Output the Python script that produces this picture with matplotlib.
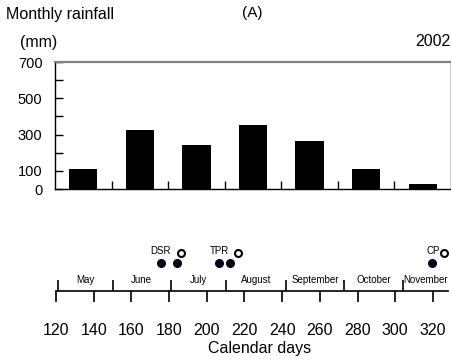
import numpy as np
import matplotlib
matplotlib.use("Agg")
import matplotlib.pyplot as plt

plt.rcParams['font.family'] = ['Liberation Sans', 'DejaVu Sans']

# --- data
months = ['May', 'June', 'July', 'August', 'September', 'October', 'November']
rainfall = [108, 325, 240, 353, 263, 108, 27]          # mm
month_start = [121, 150, 181, 210, 242, 273, 304]      # calendar day of month boundary
day_end = 328
day_ticks = list(range(120, 321, 20))
filled_days = [175.6, 184, 206.5, 212.3, 319.3]
open_days = [186.3, 216.7, 326]
event_labels = ['DSR', 'TPR', 'CP']
event_days = [175.6, 206.5, 320]

W, H = 452, 363
fig = plt.figure(figsize=(W / 100, H / 100), dpi=100)

def box(l, t, r, b):
    return [l / W, 1 - b / H, (r - l) / W, (b - t) / H]

# --- rainfall bars
ax = fig.add_axes(box(55, 62, 451, 189))
x = np.arange(len(months))
ax.bar(x, rainfall, width=0.5, color='black')
ax.set_xlim(-0.5, len(months) - 0.5)
ax.set_ylim(0, 700)
ax.set_yticks(range(0, 701, 100))
ax.set_yticklabels(['0', '100', '', '300', '', '500', '', '700'])
ax.set_xticks(x[:-1] + 0.5)
ax.set_xticklabels([])
ax.tick_params(axis='y', direction='in', length=6, width=1, labelsize=10.5, pad=9)
ax.tick_params(axis='x', direction='in', length=6, width=1)
for s in ['left', 'bottom', 'right']:
    ax.spines[s].set_linewidth(1)
ax.spines['top'].set_color('#808080')
ax.spines['top'].set_linewidth(1.6)

fig.text(6 / W, 1 - 15 / H, 'Monthly rainfall', fontsize=11.5, ha='left', va='center')
fig.text(20 / W, 1 - 42 / H, '(mm)', fontsize=11.5, ha='left', va='center')
fig.text(252 / W, 1 - 13 / H, '(A)', fontsize=11, ha='center', va='center')
fig.text(451 / W, 1 - 42 / H, '2002', fontsize=11.5, ha='right', va='center')

# --- calendar timeline
tl = fig.add_axes(box(56, 240.7, 448, 290.7))
tl.set_xlim(120, day_end)
tl.set_ylim(0, 50)
for s in ['left', 'right', 'top']:
    tl.spines[s].set_visible(False)
tl.spines['bottom'].set_linewidth(1.2)
tl.set_yticks([])
tl.set_xticks(day_ticks)
tl.set_xticks(month_start, minor=True)
tl.tick_params(axis='x', which='major', direction='out', length=8, width=1.2,
               labelsize=11.5, pad=15)
tl.tick_params(axis='x', which='minor', direction='in', length=8, width=1.2)

bounds = month_start + [day_end]
for i, m in enumerate(months):
    tl.text((bounds[i] + bounds[i + 1]) / 2, 10.7, m, fontsize=7,
            ha='center', va='center')

tl.plot(filled_days, [27.7] * len(filled_days), 'o', color='#05051a',
        markersize=5.5, clip_on=False)
tl.plot(open_days, [37.7] * len(open_days), 'o', markerfacecolor='white',
        markeredgecolor='black', markeredgewidth=1.5, markersize=5,
        clip_on=False)
for d, lab in zip(event_days, event_labels):
    tl.text(d, 39.5, lab, fontsize=7, ha='center', va='center')

fig.text(259.5 / W, 1 - 349 / H, 'Calendar days', fontsize=11.5,
         ha='center', va='center')

fig.savefig('out.png', dpi=100)
